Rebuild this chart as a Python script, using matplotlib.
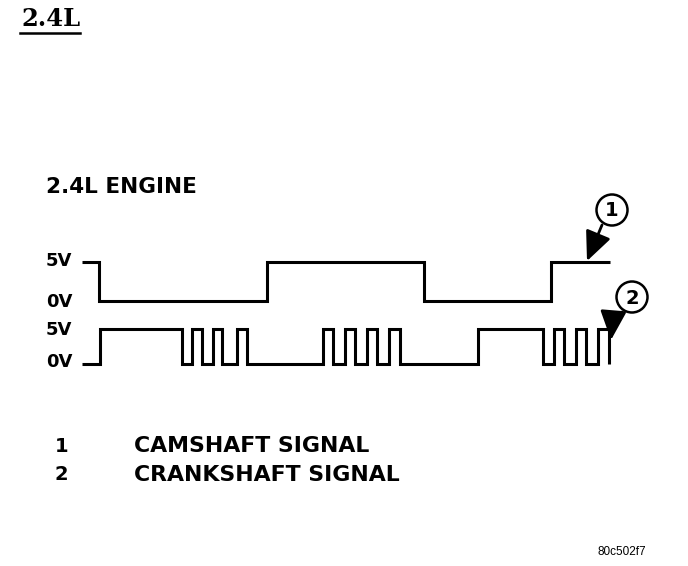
import numpy as np
import matplotlib
matplotlib.use("Agg")
import matplotlib.pyplot as plt
from matplotlib.patches import Circle

# signal edges (time axis) and voltage of each segment
cam_edges = [82, 99, 267, 424, 551, 610]
cam_volts = [5, 0, 5, 0, 5]

crank_edges = [82, 100, 182, 192, 202, 213, 222, 237, 247,
               323, 333, 345, 355, 367, 377, 389, 400,
               478, 543, 554, 564, 576, 586, 598, 609, 609]
crank_volts = [0, 5, 0, 5, 0, 5, 0, 5, 0,
               5, 0, 5, 0, 5, 0, 5, 0,
               5, 0, 5, 0, 5, 0, 5, 0]

volt_labels = ["5V", "0V"]
legend_nums = ["1", "2"]
legend_names = ["CAMSHAFT SIGNAL", "CRANKSHAFT SIGNAL"]

W, H = 688, 566


def step_xy(edges, levels):
    x = np.repeat(edges, 2)[1:-1]
    y = np.repeat(levels, 2)
    return x, y


fig = plt.figure(figsize=(W / 100, H / 100), dpi=100)
fig.patch.set_facecolor("white")

# base axes in pixel units for text and callouts
ax = fig.add_axes([0, 0, 1, 1])
ax.set_xlim(0, W)
ax.set_ylim(H, 0)
ax.axis("off")


def add_trace(top_px, bottom_px, edges, levels):
    a = fig.add_axes([0, 1 - bottom_px / H, 1, (bottom_px - top_px) / H])
    a.set_xlim(0, W)
    a.set_ylim(0, 5)
    a.axis("off")
    x, y = step_xy(edges, levels)
    a.plot(x, y, color="black", lw=2.2, solid_joinstyle="miter",
           solid_capstyle="butt", clip_on=False)
    return a


add_trace(262, 301, cam_edges, cam_volts)
add_trace(329, 364, crank_edges, crank_volts)

bold = dict(family="DejaVu Sans", fontweight="bold", color="black")

# header
ax.text(21, 26, "2.4L", family="DejaVu Serif", fontweight="bold",
        fontsize=17.5, ha="left", va="baseline")
ax.plot([20, 80], [33, 33], color="black", lw=1.8)

ax.text(46, 187, "2.4L ENGINE", fontsize=15.5, ha="left", va="center", **bold)

# voltage labels
for lab, yy in zip(volt_labels, [261, 302]):
    ax.text(46, yy, lab, fontsize=13, ha="left", va="center", **bold)
for lab, yy in zip(volt_labels, [330, 362]):
    ax.text(46, yy, lab, fontsize=13, ha="left", va="center", **bold)

# callouts
for num, (cx, cy), tail, tip, rad in [
        ("1", (612, 210), (602, 225), (587, 261), 0.0),
        ("2", (632, 297), (622, 312), (611, 340), 0.15)]:
    ax.add_patch(Circle((cx, cy), 15.5, fill=False, ec="black", lw=1.8))
    ax.text(cx, cy + 1, num, fontsize=14, ha="center", va="center", **bold)
    ax.annotate("", xy=tip, xytext=tail,
                arrowprops=dict(arrowstyle="-|>,head_length=1.0,head_width=0.45",
                                color="black", lw=2, mutation_scale=18,
                                shrinkA=0, shrinkB=0,
                                connectionstyle=f"arc3,rad={rad}"))

# legend
for num, name, yy in zip(legend_nums, legend_names, [446, 475]):
    ax.text(55, yy, num, fontsize=14, ha="left", va="center", **bold)
    ax.text(134, yy, name, fontsize=15.8, ha="left", va="center", **bold)

ax.text(597, 552, "80c502f7", family="Liberation Sans", fontsize=8.5,
        ha="left", va="center", color="black")

fig.savefig("out.png", dpi=100)
